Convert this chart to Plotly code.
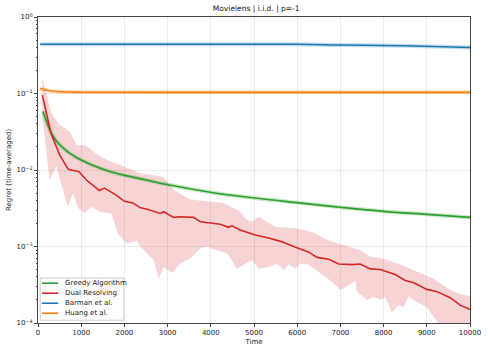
"""Regret curves on Movielens, i.i.d. arrivals, p=-1."""

import plotly.graph_objects as go

# --- data ------------------------------------------------------------------
greedy_t = [115, 300, 425, 600, 731, 963, 1504, 2005, 2507, 2985, 3988,
            4914, 6033, 7036, 8000, 9005, 10000]
greedy_y = [0.0582, 0.031, 0.0240, 0.0190, 0.0166, 0.0138, 0.0102, 0.0085,
            0.0074, 0.00646, 0.00513, 0.00437, 0.00372, 0.00324, 0.00288,
            0.00263, 0.0024]

dual_t = [100, 300, 500, 700, 950, 1120, 1420, 1540, 1810, 2000, 2200, 2370,
          2510, 2830, 2910, 3140, 3290, 3600, 3760, 4220, 4410, 4490, 4680,
          4910, 5030, 5340, 5650, 5960, 6260, 6460, 6730, 6960, 7270, 7460,
          7690, 7920, 8080, 8270, 8500, 8700, 9000, 9240, 9540, 9780, 10000]
dual_y = [0.0955, 0.0302, 0.0158, 0.0102, 0.0095, 0.0074, 0.0054, 0.0058,
          0.0047, 0.0039, 0.0037, 0.0032, 0.0031, 0.0027, 0.00285, 0.0024,
          0.00245, 0.0024, 0.0021, 0.00195, 0.00178, 0.00186, 0.00164,
          0.00148, 0.00141, 0.00129, 0.00115, 0.00098, 0.00085, 0.00072,
          0.00068, 0.00059, 0.00058, 0.00059, 0.00051, 0.0005, 0.00047,
          0.00043, 0.00036, 0.000335, 0.000275, 0.000257, 0.000214, 0.00017,
          0.000151]

dual_hi_t = [100, 300, 500, 730, 900, 1100, 1300, 1600, 2000, 2370, 2830,
             2910, 3140, 3520, 4290, 4680, 4800, 4950, 5110, 5490, 5960,
             6340, 6730, 7110, 7460, 7690, 8000, 8390, 8770, 9160, 9540,
             9780, 10000]
dual_hi_y = [0.16, 0.056, 0.039, 0.032, 0.021, 0.021, 0.017, 0.0135, 0.011,
             0.0091, 0.0083, 0.0079, 0.0055, 0.0041, 0.0037, 0.0029, 0.0023,
             0.0021, 0.00245, 0.0018, 0.00174, 0.00155, 0.0012, 0.00102,
             0.00089, 0.00074, 0.00069, 0.00058, 0.00047, 0.00038, 0.00027,
             0.00024, 0.000224]

dual_lo_t = [100, 270, 425, 690, 810, 926, 1080, 1234, 1426, 1700, 1850,
             2040, 2280, 2370, 2680, 2790, 2910, 3100, 3290, 3520, 3760,
             3910, 4140, 4380, 4610, 4760, 4950, 5110, 5340, 5530, 5690,
             5800, 5960, 6070, 6260, 6570, 6800, 7000, 7190, 7345, 7380,
             7620, 7770, 7960, 8040, 8190, 8350, 8460, 8580, 8770, 9000,
             9240, 9500, 10000]
dual_lo_y = [0.05, 0.0074, 0.0111, 0.0033, 0.005, 0.0032, 0.0027, 0.0033,
             0.00285, 0.0027, 0.00148, 0.0011, 0.0012, 0.001, 0.00066,
             0.00038, 0.00054, 0.00045, 0.0006, 0.00069, 0.00095, 0.001,
             0.00089, 0.00081, 0.00051, 0.00058, 0.00066, 0.00051, 0.00054,
             0.0006, 0.00049, 0.00058, 0.00051, 0.0006, 0.00058, 0.00043,
             0.00035, 0.00027, 0.00031, 0.00036, 0.00026, 0.0002, 0.00022,
             0.0002, 0.00022, 0.000138, 0.00017, 0.000162, 0.00022, 0.000188,
             0.000162, 0.000102, 0.000063, 0.00004]

barman_t = [50, 1000, 3000, 6000, 7000, 8500, 10000]
barman_y = [0.44, 0.44, 0.44, 0.44, 0.43, 0.42, 0.40]

huang_t = [50, 200, 440, 1000, 3000, 6000, 10000]
huang_y = [0.116, 0.110, 0.106, 0.104, 0.1035, 0.1035, 0.1035]

x_ticks = [0, 1000, 2000, 3000, 4000, 5000, 6000, 7000, 8000, 9000, 10000]
y_tickvals = [1e-4, 1e-3, 1e-2, 1e-1, 1]
y_ticktext = ["10<sup>−4</sup>", "10<sup>−3</sup>", "10<sup>−2</sup>",
              "10<sup>−1</sup>", "10<sup>0</sup>"]

legend_names = ["Greedy Algorithm", "Dual Resolving", "Barman et al.",
                "Huang et al."]

GREEN = "#2ca02c"
RED = "#d62728"
BLUE = "#1f77b4"
ORANGE = "#ff7f0e"
legend_colors = [GREEN, RED, BLUE, ORANGE]

fig = go.Figure()

# shaded band for dual resolving
fig.add_trace(go.Scatter(
    x=dual_hi_t + dual_lo_t[::-1],
    y=dual_hi_y + dual_lo_y[::-1],
    fill="toself", fillcolor="rgba(214,39,40,0.2)",
    line=dict(width=0), hoverinfo="skip", showlegend=False,
))

# faint halos standing in for the narrow confidence bands
for t, y, rgba in [(greedy_t, greedy_y, "rgba(44,160,44,0.25)"),
                   (barman_t, barman_y, "rgba(31,119,180,0.25)"),
                   (huang_t, huang_y, "rgba(255,127,14,0.25)")]:
    fig.add_trace(go.Scatter(x=t, y=y, mode="lines", line_shape="spline",
                             line=dict(color=rgba, width=4),
                             hoverinfo="skip", showlegend=False))

fig.add_trace(go.Scatter(x=greedy_t, y=greedy_y, mode="lines",
                         line_shape="spline", name="Greedy Algorithm",
                         line=dict(color=GREEN, width=1.6)))
fig.add_trace(go.Scatter(x=dual_t, y=dual_y, mode="lines",
                         name="Dual Resolving",
                         line=dict(color=RED, width=1.6)))
fig.add_trace(go.Scatter(x=barman_t, y=barman_y, mode="lines",
                         line_shape="spline", name="Barman et al.",
                         line=dict(color=BLUE, width=1.6)))
fig.add_trace(go.Scatter(x=huang_t, y=huang_y, mode="lines",
                         line_shape="spline", name="Huang et al.",
                         line=dict(color=ORANGE, width=1.6)))

# compact matplotlib-style legend (plotly's rows are too tall at this size)
shapes = [dict(type="rect", xref="paper", yref="paper",
               x0=0.005, x1=0.199, y0=0.009, y1=0.147,
               line=dict(color="#cccccc", width=1),
               fillcolor="rgba(255,255,255,0.85)", layer="above")]
annotations = []
for i, (name, col) in enumerate(zip(legend_names, legend_colors)):
    yy = 0.130 - i * 0.0327
    shapes.append(dict(type="line", xref="paper", yref="paper",
                       x0=0.009, x1=0.047, y0=yy, y1=yy,
                       line=dict(color=col, width=1.6), layer="above"))
    annotations.append(dict(text=name, xref="paper", yref="paper",
                            x=0.058, y=yy, xanchor="left", yanchor="middle",
                            showarrow=False, font=dict(size=7, color="#222")))

fig.update_layout(
    width=488, height=352,
    margin=dict(l=38, r=18, t=17, b=29),
    paper_bgcolor="white", plot_bgcolor="white",
    font=dict(family="DejaVu Sans", size=7, color="#222"),
    title=dict(text="Movielens | i.i.d. | p=-1", x=0.525, xanchor="center",
               y=0.985, yanchor="top", font=dict(size=7.5, color="#111")),
    showlegend=False,
    shapes=shapes,
    annotations=annotations,
    xaxis=dict(
        range=[0, 10000], tickvals=x_ticks, tickformat="d",
        automargin=False,
        showgrid=True, gridcolor="rgba(0,0,0,0.08)", gridwidth=1,
        zeroline=False, showline=True, linecolor="#444", linewidth=1,
        mirror=True, ticks="outside", ticklen=3, tickcolor="#444",
        title=dict(text="Time", standoff=2, font=dict(size=7)),
    ),
    yaxis=dict(
        type="log", range=[-4, 0],
        tickvals=y_tickvals, ticktext=y_ticktext,
        automargin=False,
        showgrid=True, gridcolor="rgba(0,0,0,0.08)", gridwidth=1,
        zeroline=False, showline=True, linecolor="#444", linewidth=1,
        mirror=True, ticks="outside", ticklen=3, tickcolor="#444",
        minor=dict(ticks="outside", ticklen=1.5, tickcolor="#444",
                   dtick="D1", showgrid=False),
        title=dict(text="Regret (time-averaged)", standoff=4,
                   font=dict(size=7)),
    ),
)

fig.write_html("out.html",
               config={"displayModeBar": False},
               post_script="document.body.style.margin='0';")
